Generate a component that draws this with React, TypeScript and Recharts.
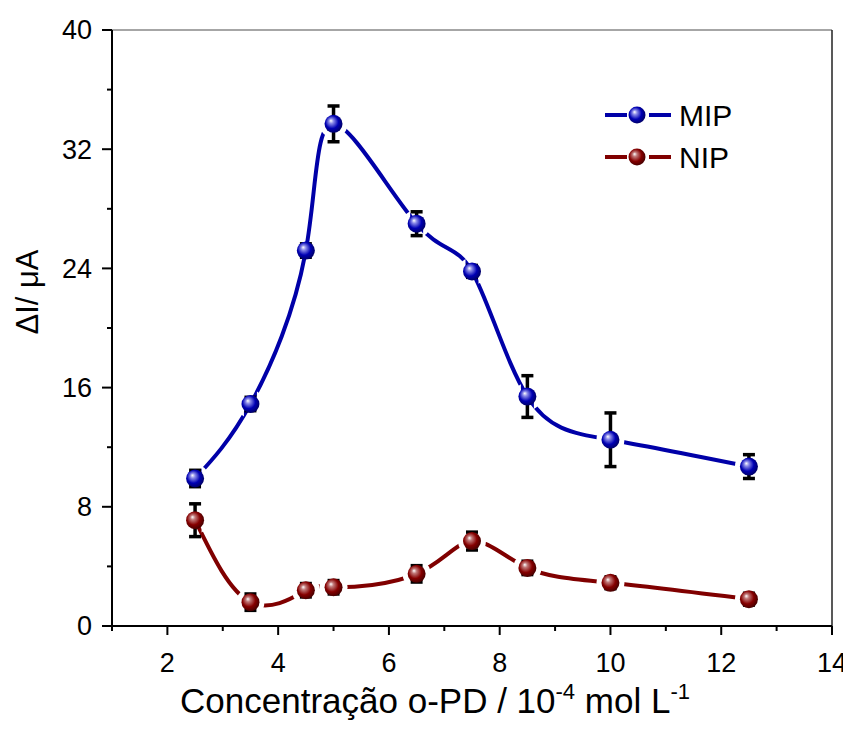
import {
  ComposedChart, Line, Area, ErrorBar, XAxis, YAxis,
  ReferenceLine, Label
} from 'recharts';

const conc = [2.5, 3.5, 4.5, 5.0, 6.5, 7.5, 8.5, 10, 12.5];
const mip = [9.9, 14.9, 25.2, 33.7, 27.0, 23.8, 15.4, 12.5, 10.7];
const mipErr = [0.55, 0.45, 0.45, 1.2, 0.8, 0.4, 1.4, 1.8, 0.8];
const nip = [7.1, 1.6, 2.4, 2.6, 3.5, 5.7, 3.9, 2.9, 1.8];
const nipErr = [1.1, 0.55, 0.45, 0.45, 0.55, 0.6, 0.45, 0.4, 0.4];

const xTicks = [1, 2, 3, 4, 5, 6, 7, 8, 9, 10, 11, 12, 13, 14];
const yTicks = [0, 4, 8, 12, 16, 20, 24, 28, 32, 36, 40];

const series = [
  { key: 'mip', err: 'mipErr', name: 'MIP', color: '#0000a8', stops: ['#ffffff', '#8a8ae8', '#0000b4', '#00005a'] },
  { key: 'nip', err: 'nipErr', name: 'NIP', color: '#800000', stops: ['#ffffff', '#c07878', '#860000', '#3c0000'] },
];

const data = conc.map((c, i) => ({
  conc: c,
  mip: mip[i],
  mipErr: mipErr[i],
  nip: nip[i],
  nipErr: nipErr[i],
}));

const FONT = 'Arial, "Liberation Sans", sans-serif';

function Ball({ cx, cy, r, stops, id }: any) {
  return (
    <g>
      <defs>
        <radialGradient id={id} cx="45%" cy="45%" r="60%" fx="35%" fy="32%">
          <stop offset="0%" stopColor={stops[0]} />
          <stop offset="22%" stopColor={stops[1]} />
          <stop offset="60%" stopColor={stops[2]} />
          <stop offset="100%" stopColor={stops[3]} />
        </radialGradient>
      </defs>
      <circle cx={cx} cy={cy} r={r} fill={`url(#${id})`} />
    </g>
  );
}

// white side pieces so the curve stops short of each symbol,
// leaving a vertical slot open for the error bar
const HALO_R = 14;
const SLOT = 6.5;
const halo = (props: any) => {
  const { cx, cy, index } = props;
  const h = Math.sqrt(HALO_R * HALO_R - SLOT * SLOT);
  const left = `M${cx - SLOT},${cy - h} A${HALO_R},${HALO_R} 0 0 0 ${cx - SLOT},${cy + h} Z`;
  const right = `M${cx + SLOT},${cy - h} A${HALO_R},${HALO_R} 0 0 1 ${cx + SLOT},${cy + h} Z`;
  return (
    <g key={index}>
      <path d={left} fill="#fff" />
      <path d={right} fill="#fff" />
    </g>
  );
};

const ball = (s: any) => (props: any) => {
  const { cx, cy, index } = props;
  return <Ball key={index} cx={cx} cy={cy} r={9} stops={s.stops} id={`g-${s.key}-${index}`} />;
};

const XTick = (props: any) => {
  const { x, y, payload } = props;
  const v = payload.value;
  const major = v % 2 === 0;
  return (
    <g>
      <line x1={x} x2={x} y1={y} y2={y + (major ? 9 : 5)} stroke="#000" strokeWidth={2} />
      {major && (
        <text x={x} y={y + 46} textAnchor="middle" fontSize={27} fontFamily={FONT} fill="#000">
          {v}
        </text>
      )}
    </g>
  );
};

const YTick = (props: any) => {
  const { x, y, payload } = props;
  const v = payload.value;
  const major = v % 8 === 0;
  return (
    <g>
      <line x1={x} x2={x - (major ? 10 : 5)} y1={y} y2={y} stroke="#000" strokeWidth={2} />
      {major && (
        <text x={x - 20} y={y} dy="0.35em" textAnchor="end" fontSize={27} fontFamily={FONT} fill="#000">
          {v}
        </text>
      )}
    </g>
  );
};

const XTitle = (props: any) => {
  const vb = props.viewBox;
  const cx = vb.x + vb.width / 2 - 37;
  return (
    <text x={cx} y={vb.y + 87} textAnchor="middle" fontSize={35} fontFamily={FONT} fill="#000">
      Concentração o-PD / 10
      <tspan dy={-14} fontSize={22}>-4</tspan>
      <tspan dy={14}> mol L</tspan>
      <tspan dy={-14} fontSize={22}>-1</tspan>
    </text>
  );
};

const YTitle = (props: any) => {
  const vb = props.viewBox;
  const cx = 30;
  const cy = vb.y + vb.height / 2 - 36;
  return (
    <text
      x={cx}
      y={cy}
      transform={`rotate(-90, ${cx}, ${cy})`}
      textAnchor="middle"
      fontSize={31}
      fontFamily={FONT}
      fill="#000"
    >
      ΔI/ μA
    </text>
  );
};

function LegendBox() {
  return (
    <svg width={170} height={90} style={{ position: 'absolute', left: 587, top: 87 }}>
      {series.map((s, i) => {
        const y = 20 + i * 42;
        return (
          <g key={s.key}>
            <line x1={10} x2={32} y1={y} y2={y} stroke={s.color} strokeWidth={4} />
            <line x1={54} x2={76} y1={y} y2={y} stroke={s.color} strokeWidth={4} />
            <Ball cx={42} cy={y} r={8.5} stops={s.stops} id={`leg-${s.key}`} />
            <text x={84} y={y} dy="0.36em" fontSize={30} fontFamily={FONT} fill="#000">
              {s.name}
            </text>
          </g>
        );
      })}
    </svg>
  );
}

export default function App() {
  return (
    <div style={{ position: 'relative', width: 843, height: 723 }}>
      <ComposedChart
        width={843}
        height={723}
        data={data}
        margin={{ top: 22, right: 19, left: 0, bottom: 0 }}
      >
        <XAxis
          dataKey="conc"
          type="number"
          domain={[1, 14]}
          ticks={xTicks}
          interval={0}
          tickSize={0}
          tickMargin={0}
          tickLine={false}
          tick={<XTick />}
          height={105}
          axisLine={{ stroke: '#000', strokeWidth: 2 }}
        >
          <Label content={<XTitle />} />
        </XAxis>
        <YAxis
          type="number"
          domain={[0, 40]}
          ticks={yTicks}
          interval={0}
          tickSize={0}
          tickMargin={0}
          tickLine={false}
          tick={<YTick />}
          width={104}
          axisLine={{ stroke: '#000', strokeWidth: 2 }}
        >
          <Label content={<YTitle />} />
        </YAxis>
        <ReferenceLine y={40} stroke="#888" strokeWidth={1.5} />
        <ReferenceLine x={14} stroke="#222" strokeWidth={1.5} />
        {series.map((s) => (
          <Area
            key={s.key + 'c'}
            dataKey={s.key}
            type="natural"
            stroke={s.color}
            strokeWidth={4}
            fill="none"
            dot={halo}
            activeDot={false}
            isAnimationActive={false}
            legendType="none"
          />
        ))}
        {series.map((s) => (
          <Line
            key={s.key + 'b'}
            dataKey={s.key}
            stroke="none"
            dot={ball(s)}
            activeDot={false}
            isAnimationActive={false}
            legendType="none"
          >
            <ErrorBar dataKey={s.err} direction="y" width={6} stroke="#000" strokeWidth={3.5} />
          </Line>
        ))}
      </ComposedChart>
      <LegendBox />
    </div>
  );
}
